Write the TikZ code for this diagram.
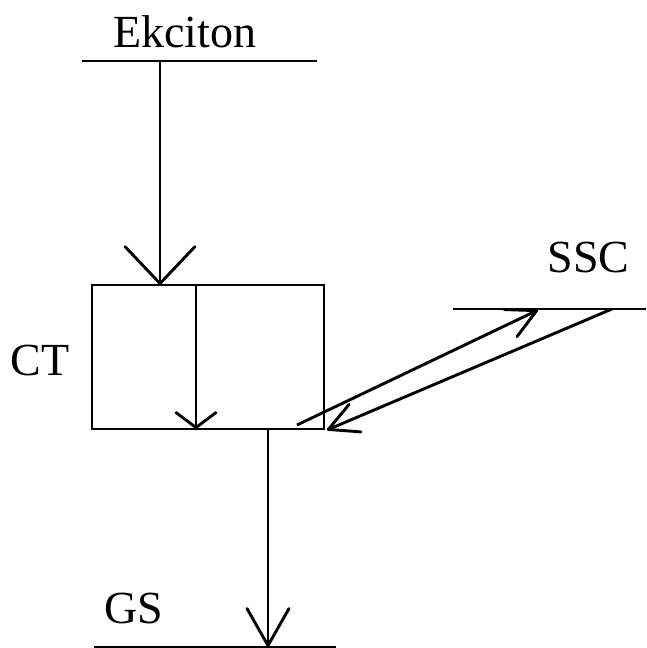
\documentclass[tikz,border=0pt]{standalone}
\usepackage{fontspec}
\setmainfont{Liberation Serif}
\usetikzlibrary{arrows.meta}
\begin{document}
\begin{tikzpicture}[x=1pt,y=-1pt,line width=2.9pt,
  lbl/.style={font=\fontsize{46}{52}\selectfont, inner sep=0pt, anchor=base west},
  bigtip/.style={-{Straight Barb[length=37pt,width=70pt,round]}},
  bottip/.style={-{Straight Barb[length=37pt,width=42pt,round]}},
  smalltip/.style={-{Straight Barb[length=15pt,width=40pt,round]}},
  diagtip/.style={-{Straight Barb[length=29pt,width=30pt,round]}},
  ctbox/.style={draw, minimum width=232pt, minimum height=144pt, inner sep=0pt}]
\useasboundingbox (0,0) rectangle (646,648);
% levels
\coordinate (ekL) at (82,61);  \coordinate (ekR) at (317,61);
\coordinate (gsL) at (94,647); \coordinate (gsR) at (336,647);
\coordinate (ssL) at (453,309); \coordinate (ssR) at (646,309);
\draw (ekL) -- (ekR);
\draw (gsL) -- (gsR);
\draw (ssL) -- (ssR);
% labels
\node[lbl] (ek) at (112,47) {Ekciton};
\node[lbl] (ssc) at (546,272) {SSC};
\node[lbl] (gs) at (103,623) {GS};
\node[lbl] (ct) at (9,375) {CT};
% box
\node[ctbox] (box) at (208,357) {};
\coordinate (inTop) at (196,285); \coordinate (inBot) at (196,429);
\draw[smalltip] (inTop) -- (inBot);
% excitation arrow
\coordinate (exTop) at (160,61); \coordinate (exBot) at (160,285);
\draw[bigtip] (exTop) -- (exBot);
% to GS
\coordinate (gsTop) at (268,429); \coordinate (gsBot) at (268,647);
\draw[bottip] (gsTop) -- (gsBot);
% to/from SSC
\coordinate (upS) at (297,425); \coordinate (upE) at (538,310);
\draw[diagtip] (upS) -- (upE);
\coordinate (dnS) at (612,309); \coordinate (dnE) at (327,430);
\draw[diagtip] (dnS) -- (dnE);
\end{tikzpicture}
\end{document}
